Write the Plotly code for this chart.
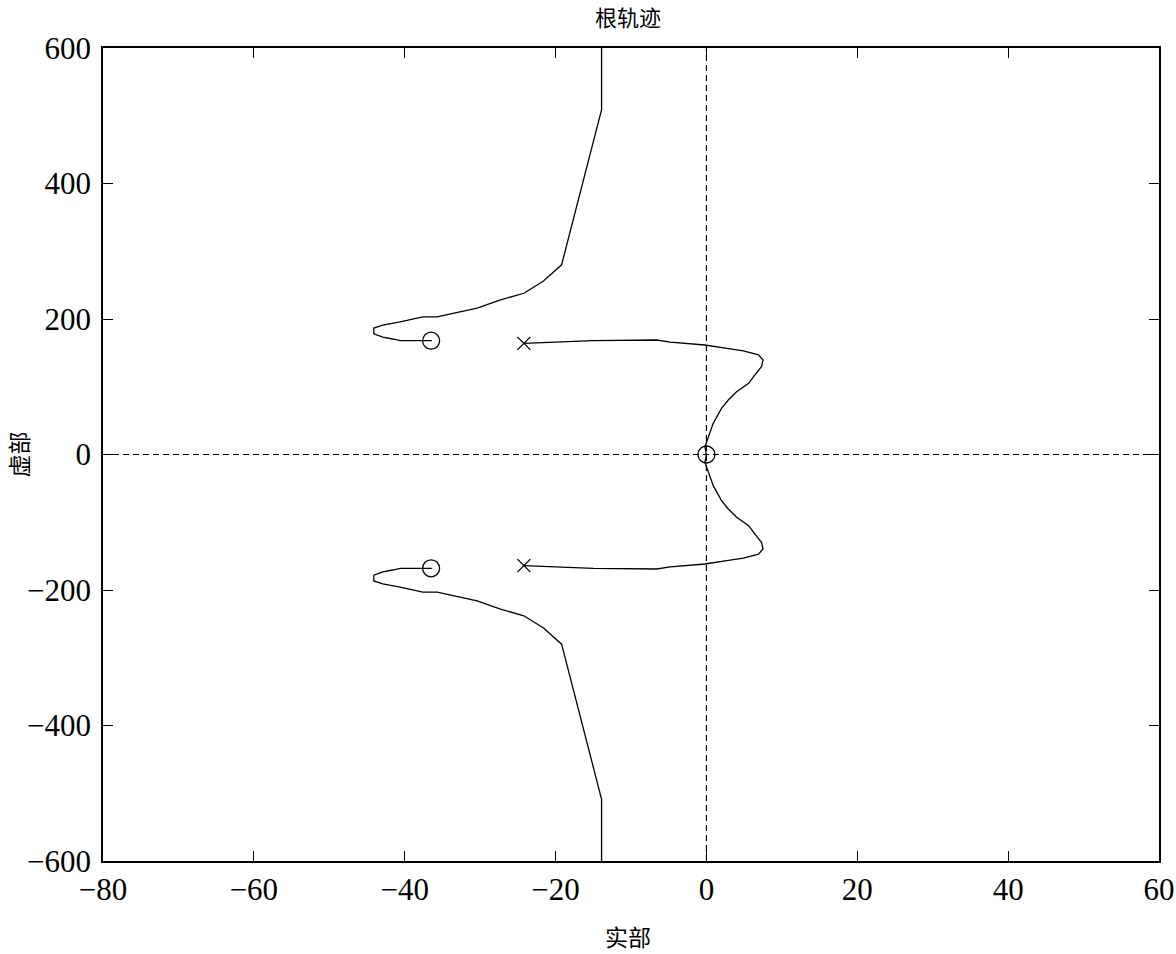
import plotly.graph_objects as go

# Zeros and poles
zero_re = [-36.5, -36.5, 0.0]
zero_im = [168, -168, 0.0]
pole_re = [-24.2, -24.2]
pole_im = [164, -164]

# Branch from upper-left zero towards asymptote (upper)
b1_re = [-36.4, -40.6, -41.6, -42.9, -44.1, -44.1, -42.9, -40.6, -37.6, -35.7, -30.4, -27.4, -24.2, -21.6, -19.2, -13.9, -13.9]
b1_im = [168, 168, 170.5, 173.4, 178, 186.7, 191, 195.6, 203, 203, 216, 228, 238, 256, 280, 509, 700]
# lower branch
b2_re = [-36.4, -40.6, -41.6, -42.9, -44.1, -44.1, -42.9, -40.6, -37.6, -35.7, -30.4, -27.4, -24.2, -21.6, -19.2, -13.9, -13.9]
b2_im = [-168, -168, -170.5, -173.4, -178, -186.7, -191, -195.6, -203, -203, -216, -228, -238, -256, -280, -509, -700]

# Branch from upper pole to origin zero
b3_re = [-24.2, -20, -15, -6.6, -4.8, -0.2, 0.9, 2.7, 4.9, 6.9, 7.5, 7.3, 6.4, 5.6, 4.0, 2.9, 2.0, 0.9, -0.2, 0.0]
b3_im = [164, 166, 168, 169, 166, 161.6, 160, 156.7, 153, 147, 139.5, 129.6, 117.3, 105, 92.7, 80.4, 68, 46, 11.5, 0.0]
b4_re = [-24.2, -20, -15, -6.6, -4.8, -0.2, 0.9, 2.7, 4.9, 6.9, 7.5, 7.3, 6.4, 5.6, 4.0, 2.9, 2.0, 0.9, -0.2, 0.0]
b4_im = [-164, -166, -168, -169, -166, -161.6, -160, -156.7, -153, -147, -139.5, -129.6, -117.3, -105, -92.7, -80.4, -68, -46, -11.5, 0.0]

x_ticks = [-80, -60, -40, -20, 0, 20, 40, 60]
y_ticks = [-600, -400, -200, 0, 200, 400, 600]

title_text = "根轨迹"
xlabel = "实部"
ylabel = "虚部"

fig = go.Figure()
line_style = dict(color="black", width=1.3)
for xs, ys in [(b1_re, b1_im), (b2_re, b2_im), (b3_re, b3_im), (b4_re, b4_im)]:
    fig.add_trace(go.Scatter(x=xs, y=ys, mode="lines", line=line_style, showlegend=False))

# dashed axes through origin
fig.add_trace(go.Scatter(x=[-80, 60], y=[0, 0], mode="lines",
                         line=dict(color="black", width=1.2, dash="6px,4px"), showlegend=False))
fig.add_trace(go.Scatter(x=[0, 0], y=[-600, 600], mode="lines",
                         line=dict(color="black", width=1.2, dash="6px,4px"), showlegend=False))

fig.add_trace(go.Scatter(x=zero_re, y=zero_im, mode="markers",
                         marker=dict(symbol="circle-open", size=17, color="black", line=dict(width=1.3)),
                         showlegend=False))
fig.add_trace(go.Scatter(x=pole_re, y=pole_im, mode="markers",
                         marker=dict(symbol="x-thin-open", size=13, color="black", line=dict(width=1.3)),
                         showlegend=False))

tickfont = dict(family="Liberation Serif, Times New Roman, serif", size=31, color="black")
axis_common = dict(showgrid=False, zeroline=False, showline=True, linecolor="black", linewidth=1.5,
                   mirror="ticks", ticks="inside", ticklen=10, tickwidth=1.2, tickcolor="black",
                   tickfont=tickfont, automargin=False)

fig.update_xaxes(range=[-80, 60], tickvals=x_ticks,
                 ticktext=[("\u2212" + str(-v)) if v < 0 else str(v) for v in x_ticks], **axis_common)
fig.update_yaxes(range=[-600, 600], tickvals=y_ticks, ticklabelstandoff=4,
                 ticktext=[("\u2212" + str(-v)) if v < 0 else str(v) for v in y_ticks], **axis_common)

cjk = dict(family="Noto Sans CJK SC, serif", size=23, color="black")
fig.update_layout(
    width=1176, height=954,
    margin=dict(l=103, r=17, t=48, b=93),
    plot_bgcolor="white", paper_bgcolor="white",
    title=dict(text=title_text, x=(628 / 1176), xanchor="center", y=1 - 18 / 954, yanchor="middle",
               yref="container", font=dict(family="Noto Sans CJK SC, serif", size=22, color="black")),
    annotations=[
        dict(text=xlabel, x=(628 - 103) / 1056, y=0, xref="paper", yref="paper", yshift=-75,
             xanchor="center", yanchor="middle", showarrow=False, font=cjk),
        dict(text=ylabel, x=0, y=0.5, xref="paper", yref="paper", xshift=-86,
             xanchor="center", yanchor="middle", textangle=-90, showarrow=False, font=cjk),
    ],
)

fig.write_html("out.html", config={"displayModeBar": False},
               post_script="document.body.style.margin='0';document.body.style.overflow='hidden';")
